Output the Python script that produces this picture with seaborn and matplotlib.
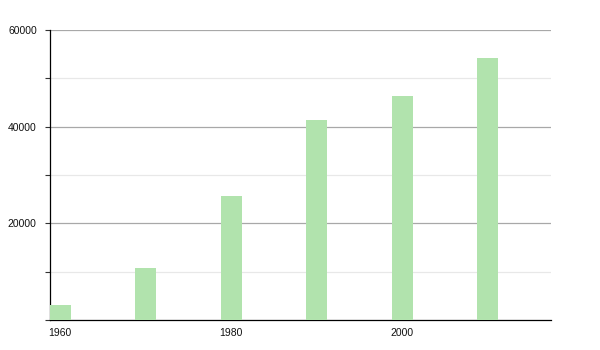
import matplotlib
matplotlib.use("Agg")
import matplotlib.pyplot as plt
import seaborn as sns
import pandas as pd
from matplotlib.ticker import MultipleLocator

years = [1960, 1970, 1980, 1990, 2000, 2010]
population = [3100, 10700, 25700, 41400, 46400, 54200]
x_tick_labels = [1960, 1980, 2000]
y_tick_labels = [20000, 40000, 60000]

df = pd.DataFrame({"year": years, "population": population})

sns.set_style("white")
plt.rcParams["font.family"] = ["Liberation Sans", "DejaVu Sans"]

fig = plt.figure(figsize=(6, 3.5), dpi=100)
ax = fig.add_axes([50 / 600, 30 / 350, 501 / 600, 290 / 350])

sns.barplot(data=df, x="year", y="population", native_scale=True,
            width=0.245, color="#b1e3ad", saturation=1, linewidth=0,
            ax=ax, zorder=3)

ax.set_xlim(1958.8, 2017.4)
ax.set_ylim(0, 60000)
ax.set_xticks(x_tick_labels)
ax.set_xticklabels([str(v) for v in x_tick_labels])
ax.set_yticks(y_tick_labels)
ax.set_yticklabels([str(v) for v in y_tick_labels])
ax.yaxis.set_minor_locator(MultipleLocator(10000))

ax.grid(axis="y", which="major", color="#a8a8a8", linewidth=0.9, zorder=0)
ax.grid(axis="y", which="minor", color="#e8e8e8", linewidth=0.9, zorder=0)
ax.set_axisbelow(True)

for s in ["top", "right"]:
    ax.spines[s].set_visible(False)
ax.spines["left"].set_color("black")
ax.spines["bottom"].set_color("black")
ax.spines["left"].set_linewidth(0.9)
ax.spines["bottom"].set_linewidth(0.9)

ax.tick_params(axis="y", which="both", left=True, length=3.5, width=0.8,
               color="#333333", labelsize=7.5, pad=6, labelcolor="#111111")
ax.tick_params(axis="x", which="both", bottom=False, labelsize=7.5, pad=2,
               labelcolor="#111111")
ax.set_xlabel("")
ax.set_ylabel("")

fig.savefig("out.png", dpi=100)
